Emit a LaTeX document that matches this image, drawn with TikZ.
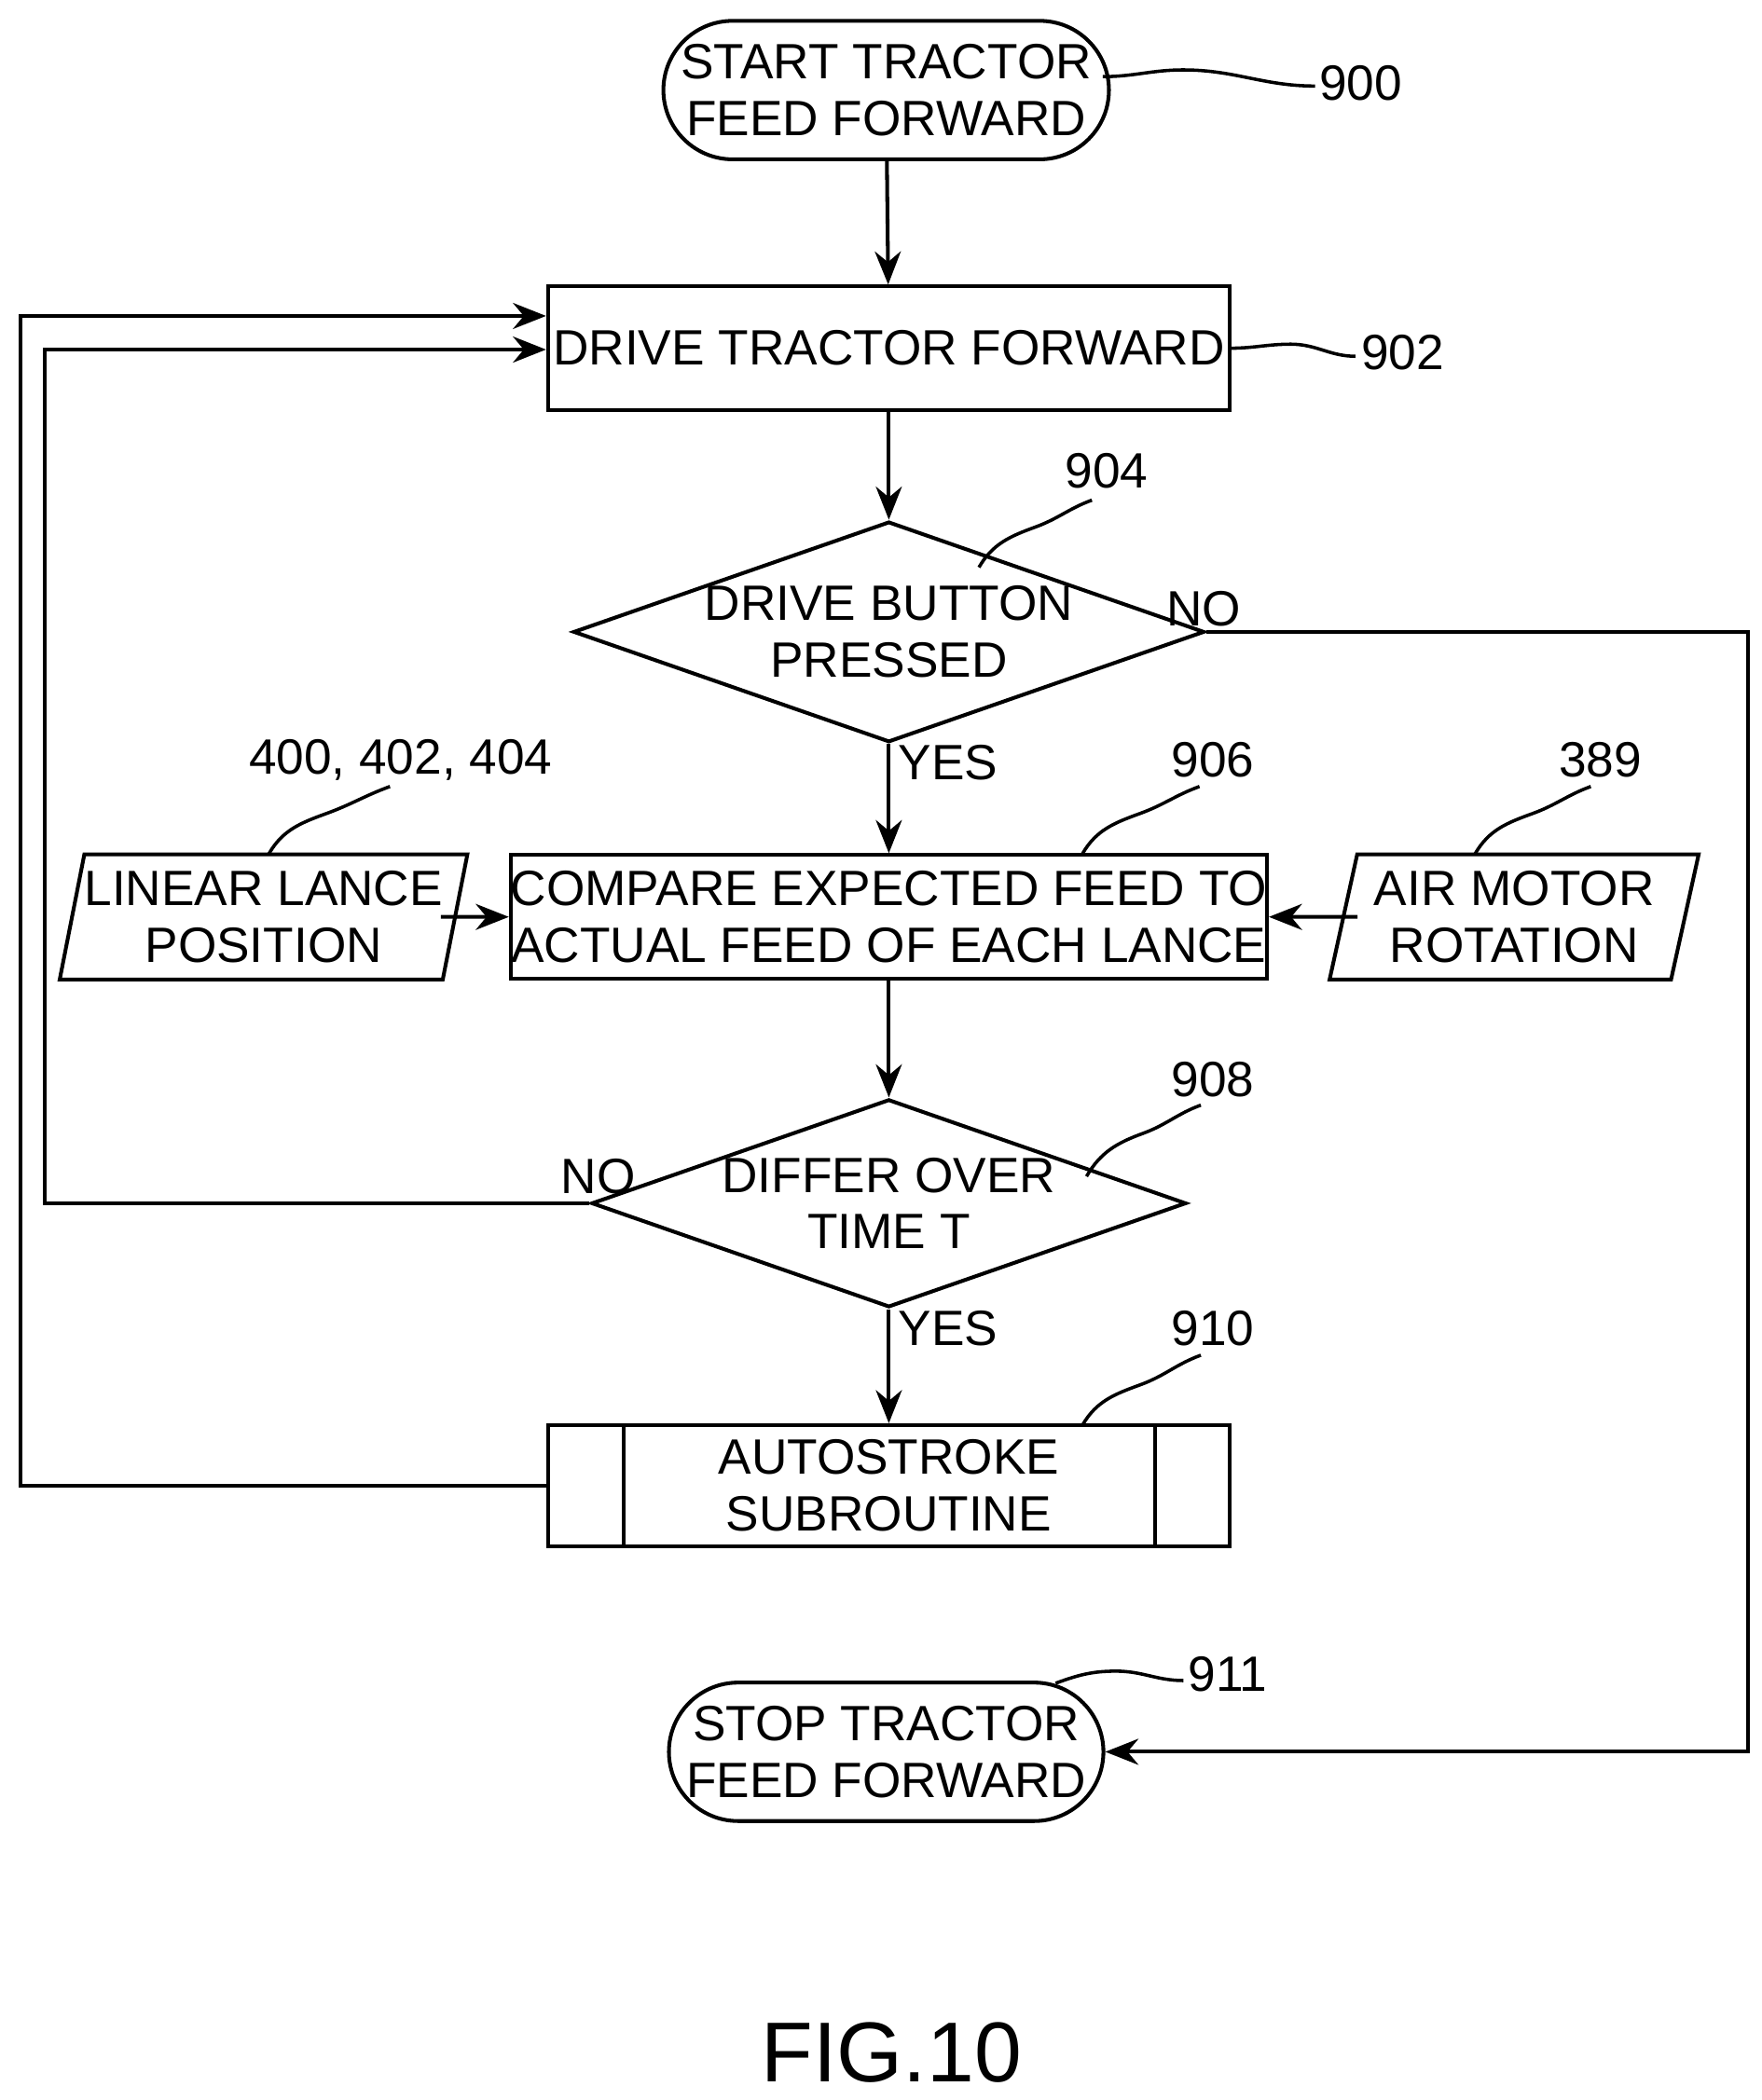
\documentclass[tikz,border=0pt]{standalone}
\usepackage{fontspec}
\setmainfont{Liberation Sans}
\usetikzlibrary{shapes.geometric,shapes.misc,arrows.meta,calc}
\begin{document}
\begin{tikzpicture}[x=0.02cm,y=-0.02cm,
 every node/.style={font=\fontsize{21}{24}\selectfont, align=center},
 ln/.style={line width=1.6pt},
 arr/.style={ln,-{Stealth[length=14pt,width=11pt]}},
 term/.style={ln,draw,rounded rectangle,minimum width=322*0.02cm,minimum height=103*0.02cm,inner sep=0pt},
 box/.style={ln,draw,rectangle,minimum width=507*0.02cm,minimum height=92*0.02cm,inner sep=0pt},
 dia/.style={ln,draw,diamond,aspect=2.86,minimum width=400*0.02cm,inner sep=0pt},
 io/.style={ln,draw,trapezium,trapezium left angle=75,trapezium right angle=105,minimum width=275*0.02cm,minimum height=93*0.02cm,inner sep=0pt,trapezium stretches=true},
 lbl/.style={font=\fontsize{21}{24}\selectfont},
 sq/.style={line width=1.4pt}]
\useasboundingbox (0,0) rectangle (1310,1562);
\node[term] (s) at (659,67) {START TRACTOR\\FEED FORWARD};
\node[box] (d) at (661,259) {DRIVE TRACTOR FORWARD};
\node[dia,minimum height=140*0.02cm] (q1) at (661,470) {DRIVE BUTTON\\PRESSED};
\node[box] (c) at (661,682) {COMPARE EXPECTED FEED TO\\ACTUAL FEED OF EACH LANCE};
\node[io] (ll) at (196,682) {LINEAR LANCE\\POSITION};
\node[io] (am) at (1126,682) {AIR MOTOR\\ROTATION};
\node[dia,minimum height=140*0.02cm] (q2) at (661,895) {DIFFER OVER\\TIME T};
\node[box,minimum height=90*0.02cm] (a) at (661,1105) {AUTOSTROKE\\SUBROUTINE};
\draw[ln] ($(a.north west)+(58,0)$) -- ($(a.south west)+(58,0)$);
\draw[ln] ($(a.north east)+(-57,0)$) -- ($(a.south east)+(-57,0)$);
\node[term] (e) at (659,1303) {STOP TRACTOR\\FEED FORWARD};
\node[font=\fontsize{36}{40}\selectfont] (fig) at (663,1527) {FIG.10};
% labels
\node[lbl] (l900) at (1012,62) {900};
\node[lbl] (l902) at (1043,262) {902};
\node[lbl] (l904) at (823,350) {904};
\node[lbl] (l906) at (902,565) {906};
\node[lbl] (l400) at (298,565) {400, 402, 404};
\node[lbl] (l389) at (1190,565) {389};
\node[lbl] (l908) at (902,803) {908};
\node[lbl] (l910) at (902,988) {910};
\node[lbl] (l911) at (913,1245) {911};
\node[lbl] (no1) at (895,453) {NO};
\node[lbl] (yes1) at (705,567) {YES};
\node[lbl] (no2) at (445,875) {NO};
\node[lbl] (yes2) at (705,988) {YES};
% squiggles
\coordinate (t900) at (978,64);
\coordinate (t902) at (1008,265);
\coordinate (t904) at (812,372);
\coordinate (t906) at (892,585);
\coordinate (t400) at (290,585);
\coordinate (t389) at (1183,585);
\coordinate (t908) at (893,822);
\coordinate (t910) at (893,1008);
\coordinate (t911) at (880,1250);
\draw[sq] (820,57) to[out=0,in=180] (880,52) to[out=0,in=180] (t900);
\draw[sq] (915,259) to[out=0,in=180] (960,256) to[out=0,in=180] (t902);
\draw[sq] (728,422) to[out=60,in=200] (770,392) to[out=20,in=200] (t904);
\draw[sq] (805,635) to[out=60,in=200] (848,605) to[out=20,in=200] (t906);
\draw[sq] (200,635) to[out=60,in=200] (243,605) to[out=20,in=200] (t400);
\draw[sq] (1097,635) to[out=60,in=200] (1140,605) to[out=20,in=200] (t389);
\draw[sq] (808,875) to[out=60,in=200] (850,843) to[out=20,in=200] (t908);
\draw[sq] (805,1060) to[out=60,in=200] (848,1030) to[out=20,in=200] (t910);
\draw[sq] (785,1252) to[out=20,in=180] (830,1243) to[out=0,in=180] (t911);
% connectors
\draw[arr] (s) -- (d);
\draw[arr] (d) -- (q1);
\draw[arr] (q1) -- (c);
\draw[arr] (c) -- (q2);
\draw[arr] (q2) -- (a);
\draw[arr] (ll.east) ++(-12,0) coordinate (lle) (lle) -- (c.west);
\draw[arr] (am.west) ++(12,0) coordinate (amw) (amw) -- (c.east);
\draw[arr] (q1.east) -- (1300,470) |- (e.east);
\draw[arr] (q2.west) -- (33,895) |- ($(d.west)+(0,1)$);
\draw[arr] (a.west) -- (15,1105) |- ($(d.west)+(0,-24)$);
\end{tikzpicture}
\end{document}
